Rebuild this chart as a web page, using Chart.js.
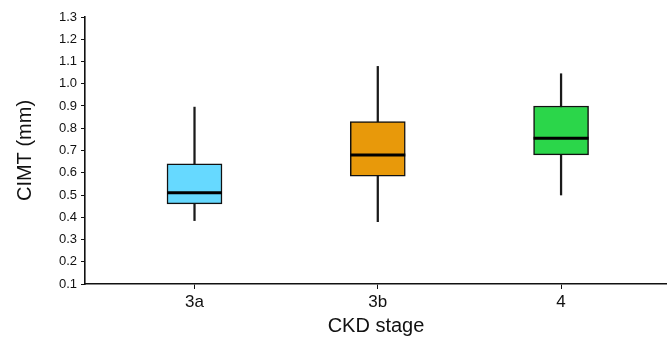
<!DOCTYPE html>
<html>
<head>
<meta charset="utf-8">
<title>CIMT by CKD stage</title>
<script src="https://cdn.jsdelivr.net/npm/chart.js@4/dist/chart.umd.min.js"></script>
<style>
  html, body { margin: 0; padding: 0; background: #fff; }
  #wrap { width: 667px; height: 339px; position: relative; }
</style>
</head>
<body>
<div id="wrap"><canvas id="cimtChart"></canvas></div>
<script>
var stages = ['3a', '3b', '4'];
var whiskerLow = [0.385, 0.38, 0.50];
var boxLow = [0.46, 0.585, 0.68];
var medians = [0.51, 0.68, 0.755];
var boxHigh = [0.64, 0.83, 0.90];
var whiskerHigh = [0.895, 1.078, 1.045];
var boxColors = ['#66D9FF', '#E8990A', '#2BD64A'];
var yTicks = [0.1, 0.2, 0.3, 0.4, 0.5, 0.6, 0.7, 0.8, 0.9, 1.0, 1.1, 1.2, 1.3];

(function () {
  var ink = '#111111';
  var fontFamily = '"Liberation Sans", Arial, sans-serif';

  function ranges(lo, hi) {
    return stages.map(function (_, i) {
      return { x: i, y: [lo[i], hi[i]] };
    });
  }

  // median bars drawn on top of the boxes
  var medianPlugin = {
    id: 'medianLines',
    afterDatasetsDraw: function (chart) {
      var xs = chart.scales.x;
      var ys = chart.scales.y;
      var ctx = chart.ctx;
      var half = 27.5;
      ctx.save();
      ctx.strokeStyle = '#000';
      ctx.lineWidth = 3;
      medians.forEach(function (m, i) {
        var px = xs.getPixelForValue(i);
        var py = ys.getPixelForValue(m);
        ctx.beginPath();
        ctx.moveTo(px - half, py);
        ctx.lineTo(px + half, py);
        ctx.stroke();
      });
      ctx.restore();
    },
  };

  Chart.defaults.font.family = fontFamily;
  Chart.defaults.color = ink;

  new Chart(document.getElementById('cimtChart'), {
    type: 'bar',
    data: {
      datasets: [
        {
          label: 'box',
          data: ranges(boxLow, boxHigh),
          backgroundColor: boxColors,
          borderColor: ink,
          borderWidth: 1.5,
          borderSkipped: false,
          barThickness: 55,
          grouped: false,
          order: 0,
        },
        {
          label: 'whisker',
          data: ranges(whiskerLow, whiskerHigh),
          backgroundColor: '#1a1a1a',
          borderWidth: 0,
          barThickness: 1.6,
          grouped: false,
          order: 1,
        },
      ],
    },
    plugins: [medianPlugin],
    options: {
      responsive: true,
      maintainAspectRatio: false,
      animation: false,
      layout: { padding: { top: 17, right: 0, bottom: 0, left: 0 } },
      plugins: {
        legend: { display: false },
        tooltip: { enabled: false },
      },
      scales: {
        x: {
          type: 'linear',
          offset: false,
          min: -0.5975,
          max: 2.578,
          grid: { offset: false, drawOnChartArea: false, drawTicks: true, tickLength: 5, color: ink, lineWidth: 1 },
          border: { color: ink, width: 1.6 },
          afterBuildTicks: function (scale) {
            scale.ticks = stages.map(function (_, i) { return { value: i }; });
          },
          afterFit: function (scale) { scale.height = 55; },
          ticks: {
            padding: 3,
            font: { size: 17 },
            color: ink,
            callback: function (value) { return stages[value]; },
          },
          title: {
            display: true,
            text: 'CKD stage',
            font: { size: 20 },
            color: ink,
            padding: { top: 0, bottom: 1 },
          },
        },
        y: {
          min: 0.1,
          max: 1.3,
          grid: { drawOnChartArea: false, drawTicks: true, tickLength: 4, color: ink, lineWidth: 1 },
          border: { color: ink, width: 1.6 },
          afterBuildTicks: function (scale) {
            scale.ticks = yTicks.map(function (v) { return { value: v }; });
          },
          afterFit: function (scale) { scale.width = 85; },
          ticks: {
            padding: 4,
            font: { size: 13 },
            color: ink,
            callback: function (value) { return Number(value).toFixed(1); },
          },
          title: {
            display: true,
            text: 'CIMT (mm)',
            font: { size: 20 },
            color: ink,
            padding: { top: 13, bottom: 0 },
          },
        },
      },
    },
  });
})();
</script>
</body>
</html>
